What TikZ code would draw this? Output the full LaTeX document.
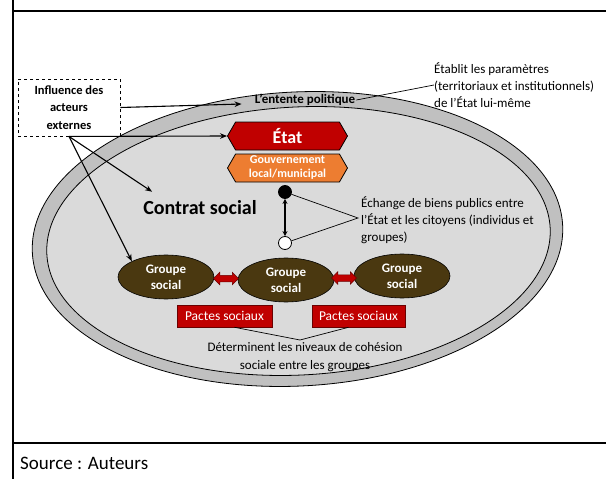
\documentclass[tikz,border=0pt]{standalone}
\usepackage{fontspec}
\setmainfont{Carlito}
\usetikzlibrary{shapes.symbols,shapes.arrows,shapes.geometric,arrows.meta,calc}
\definecolor{rimg}{HTML}{C0C0C0}
\definecolor{innerg}{HTML}{DADADA}
\definecolor{brownG}{HTML}{4A3810}
\definecolor{redS}{HTML}{C00000}
\definecolor{orangeG}{HTML}{ED7D31}
\definecolor{redB}{HTML}{6A0000}
\begin{document}
\begin{tikzpicture}[x=1pt,y=-1pt,
  frameline/.style={line width=1.8pt},
  conn/.style={line width=1.1pt,-{Stealth[length=7pt,width=5.5pt]}},
  lead/.style={line width=0.7pt},
  dashbox/.style={draw,dashed,line width=0.9pt,minimum width=102pt,minimum height=57pt,align=center,font=\fontsize{12.5}{17.5}\selectfont\bfseries,inner sep=0pt},
  hexbox/.style={signal,signal from=nowhere,signal to=east and west,signal pointer angle=120,draw=black,line width=0.8pt,minimum width=120pt,minimum height=28pt,inner sep=0pt,text=white,align=center},
  grp/.style={ellipse,fill=brownG,draw=black,line width=0.6pt,minimum width=96pt,minimum height=44pt,inner sep=0pt,text=white,align=center,font=\fontsize{13}{16}\selectfont\bfseries},
  redarrow/.style={double arrow,fill=redS,draw=redB,line width=0.5pt,minimum height=25pt,double arrow head extend=3pt,inner sep=3pt},
  pbox/.style={rectangle,fill=redS,draw=redB,line width=0.6pt,minimum width=95pt,minimum height=22pt,inner sep=0pt,text=white,font=\fontsize{13.5}{16}\selectfont},
  note/.style={align=left,inner sep=0pt,font=\fontsize{13}{17}\selectfont},
  dot/.style={circle,draw=black,line width=0.8pt,minimum size=13pt,inner sep=0pt}
]
\useasboundingbox (0,0) rectangle (606,479);
% frame
\draw[frameline] (13,0) -- (13,479);
\draw[frameline] (13,11) -- (606,11);
\draw[frameline] (13,443) -- (606,443);
% ellipses
\draw[line width=0.8pt,fill=rimg,rotate around={3:(297.5,239)}] (297.5,239) ellipse [x radius=265.5,y radius=147];
\draw[line width=0.8pt,fill=innerg,rotate around={3:(298.5,241)}] (298.5,241) ellipse [x radius=252,y radius=134];
% nodes
\node[dashbox] (ext) at (69,107.5) {Influence des\\acteurs\\externes};
\node[font=\fontsize{13}{16}\selectfont\bfseries,inner sep=1pt] (ent) at (305,100) {L’entente politique};
\node[note,anchor=west] (etab) at (434,85) {Établit les paramètres\\(territoriaux et institutionnels)\\de l’État lui-même};
\node[hexbox,fill=redS,font=\fontsize{18}{20}\selectfont\bfseries] (etat) at (287.5,136) {État};
\node[hexbox,fill=orangeG,font=\fontsize{12}{14}\selectfont\bfseries] (gouv) at (287.5,168) {Gouvernement\\local/municipal};
\node[dot,fill=black] (bdot) at (285,192) {};
\node[dot,fill=white] (wdot) at (285,243) {};
\coordinate (ech) at (358,218);
\node[note,anchor=west] (echt) at (361,220) {Échange de biens publics entre\\l’État et les citoyens (individus et\\groupes)};
\node[font=\fontsize{20}{22}\selectfont\bfseries,inner sep=0pt] (cs) at (200,208) {Contrat social};
\node[grp] (g1) at (166,277) {Groupe\\social};
\node[grp] (g2) at (286,280) {Groupe\\social};
\node[grp] (g3) at (402,276) {Groupe\\social};
\path (g1.east) -- (g2.west) node[midway,redarrow] (ra1) {};
\path (g2.east) -- (g3.west) node[midway,redarrow] (ra2) {};
\node[pbox] (p1) at (224.5,316) {Pactes sociaux};
\node[pbox,minimum width=93pt] (p2) at (358.5,316) {Pactes sociaux};
\coordinate (dpt) at (300,340);
\node[align=center,inner sep=0pt,font=\fontsize{13}{17.5}\selectfont] (det) at (305,357) {Déterminent les niveaux de cohésion\\sociale entre les groupes};
\node[anchor=west,inner sep=0pt,font=\fontsize{19}{22}\selectfont] (src) at (20,463) {Source : Auteurs};
% connectors
\draw[conn] (ext.east) -- ($(ent.west)+(-12,4)$);
\draw[lead] (ent.east) -- (etab.west);
\draw[conn] (ext.south) -- (etat.west);
\draw[conn] (ext.south) -- ($(cs.north west)+(9,-9)$);
\draw[conn] (ext.south) -- (g1.north west);
\draw[line width=1.3pt,{Stealth[length=5pt,width=5pt]}-{Stealth[length=5pt,width=5pt]}] (bdot) -- (wdot);
\draw[lead] (bdot) -- (ech) -- (wdot);
\draw[lead] ($(p1.south)+(10,0)$) -- (dpt) -- ($(p2.south)+(-10,0)$);
\end{tikzpicture}
\end{document}
